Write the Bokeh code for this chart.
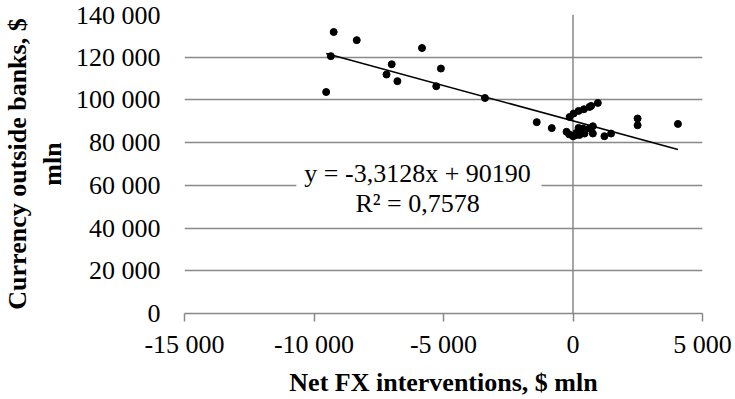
from bokeh.plotting import figure
from bokeh.models import (FixedTicker, CustomJSTickFormatter, Span, Label,
                          BoxAnnotation, Range1d)
from bokeh.embed import file_html
from bokeh.resources import INLINE

# Net FX interventions, $ mln
fx = [-9240, -8350, -9350, -5830, -7000, -7200, -6780, -5100, -5280, -9530, -3400,
      -1400, -820, -250, -150,
      0, 80, 127, 215, 250, 384, 445, 637, 767, 767, 1213, 1470,
      -130, 23, 215, 422, 637, 700, 959,
      2494, 2494, 4052]
# Currency outside banks, $ mln
cash = [131800, 128000, 120500, 124300, 116700, 111900, 108800, 114700, 106400, 103700, 100900,
        89600, 86800, 85100, 83900,
        83000, 83400, 84550, 86890, 83600, 86610, 84270, 86610, 87690, 84270, 83010, 84270,
        92040, 93630, 94850, 95650, 96720, 97200, 98600,
        91290, 88150, 88760]

trend_slope = -3.3128
trend_intercept = 90190
eq_line1 = "y = -3,3128x + 90190"
eq_line2 = "R\u00b2 = 0,7578"

x_ticks = [-15000, -10000, -5000, 0, 5000]
y_ticks = [0, 20000, 40000, 60000, 80000, 100000, 120000, 140000]
x_title = "Net FX interventions, $ mln"
y_title = "Currency outside banks, $\nmln"

FONT = "Liberation Serif"
GRID = "#898989"

p = figure(width=735, height=399, output_backend="svg", toolbar_location=None,
           x_range=Range1d(-15000, 5000), y_range=Range1d(0, 140000),
           min_border_left=181, min_border_right=33, min_border_top=14,
           min_border_bottom=86)
p.outline_line_color = None
p.background_fill_color = "white"
p.border_fill_color = "white"

fmt = CustomJSTickFormatter(code="""
return tick.toString().replace(/\\B(?=(\\d{3})+(?!\\d))/g, " ");
""")

# axes
xa = p.xaxis[0]
xa.ticker = FixedTicker(ticks=x_ticks)
xa.formatter = fmt
xa.axis_line_color = GRID
xa.axis_line_width = 1.5
xa.major_tick_line_color = GRID
xa.major_tick_line_width = 1.5
xa.major_tick_out = 8
xa.major_tick_in = 0
xa.minor_tick_line_color = None
xa.major_label_text_font = FONT
xa.major_label_text_font_size = "26px"
xa.major_label_text_color = "black"
xa.major_label_standoff = 8
xa.axis_label = x_title
xa.axis_label_text_font = FONT
xa.axis_label_text_font_size = "26px"
xa.axis_label_text_font_style = "bold"
xa.axis_label_text_color = "black"
xa.axis_label_standoff = 6

ya = p.yaxis[0]
ya.ticker = FixedTicker(ticks=y_ticks)
ya.formatter = fmt
ya.axis_line_color = None
ya.major_tick_line_color = None
ya.minor_tick_line_color = None
ya.major_tick_out = 0
ya.major_tick_in = 0
ya.major_label_text_font = FONT
ya.major_label_text_font_size = "26px"
ya.major_label_text_color = "black"
ya.major_label_standoff = 24
ya.axis_label = y_title
ya.axis_label_text_font = FONT
ya.axis_label_text_font_size = "26px"
ya.axis_label_text_font_style = "bold"
ya.axis_label_text_color = "black"
ya.axis_label_standoff = 6

p.xgrid.grid_line_color = None
p.ygrid.ticker = FixedTicker(ticks=y_ticks)
p.ygrid.grid_line_color = GRID
p.ygrid.grid_line_width = 1.5

p.add_layout(Span(location=0, dimension="height", line_color=GRID, line_width=1.5,
                  level="underlay"))

# trend line over the data range
x0, x1 = min(fx), max(fx)
p.line([x0, x1], [trend_slope * x0 + trend_intercept, trend_slope * x1 + trend_intercept],
       line_color="black", line_width=1.5)

p.scatter(fx, cash, size=7, color="black")

# equation label with white box
p.add_layout(BoxAnnotation(left=-10683, right=-1216, bottom=44600, top=73200,
                           fill_color="white", fill_alpha=1.0, line_color=None,
                           level="underlay"))
p.add_layout(Label(x=-6000, y=65543, text=eq_line1, text_align="center",
                   text_baseline="middle", text_font=FONT, text_font_size="26px",
                   text_color="black"))
p.add_layout(Label(x=-6000, y=51498, text=eq_line2, text_align="center",
                   text_baseline="middle", text_font=FONT, text_font_size="26px",
                   text_color="black"))

open("out.html", "w").write(file_html(p, INLINE))
